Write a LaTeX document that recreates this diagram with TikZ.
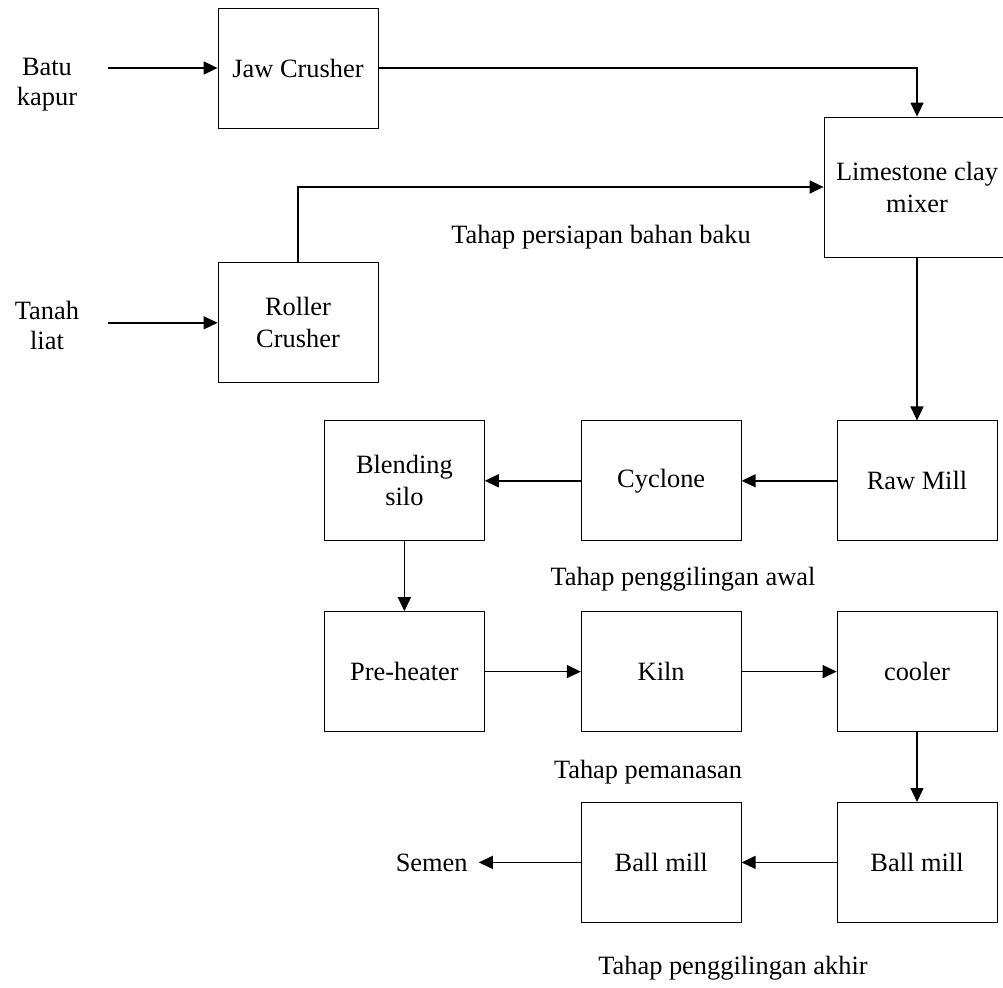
\documentclass[tikz,border=0pt]{standalone}
\usepackage{fontspec}
\setmainfont{Liberation Serif}
\usetikzlibrary{positioning,arrows.meta}

\begin{document}
\begin{tikzpicture}[x=1pt,y=-1pt,node distance={70pt and 96pt},
main/.style={draw,line width=0.8pt,minimum width=160pt,minimum height=120pt,inner sep=0pt,align=center,font=\fontsize{26.4}{32}\selectfont},
txt/.style={inner sep=0pt,align=center,font=\fontsize{26.4}{30}\selectfont},
flow/.style={-{Triangle[length=14pt,width=13pt]},line width = 0.5mm}]
\useasboundingbox (0,0) rectangle (1003,987);
\clip (0,0) rectangle (1003,987);

\node[main] (1) at (298,68) {Jaw Crusher};
\node[main,minimum width=186pt,minimum height=140pt] (2) at (917,187) {Limestone clay\\mixer};
\node[main] (3) [below=134pt of 1] {Roller\\Crusher};
\node[main] (4) [below=163pt of 2] {Raw Mill};
\node[main] (5) [left=95pt of 4] {Cyclone};
\node[main] (6) [left=of 5] {Blending\\silo};
\node[main] (7) [below=of 6] {Pre-heater};
\node[main] (8) [right=of 7] {Kiln};
\node[main] (9) [right=95pt of 8] {cooler};
\node[main] (10) [below=of 9] {Ball mill};
\node[main] (11) [left=95pt of 10] {Ball mill};

% masuk dan keluar
\coordinate[left=110pt of 1] (b1);
\coordinate[left=110pt of 3] (t1);
\coordinate[left=102pt of 11] (s1);
\node[txt] (b) at (47,85) {Batu\\kapur};
\node[txt] (t) at (47,325) {Tanah\\liat};
\node[txt] (s) [left=11pt of s1] {Semen};

% tahap
\node[txt] (p1) at (601,237) {Tahap persiapan bahan baku};
\node[txt] (p2) at (683,579) {Tahap penggilingan awal};
\node[txt] (p3) at (648,772) {Tahap pemanasan};
\node[txt] (p4) at (733,968) {Tahap penggilingan akhir};

\draw[flow] (b1) -- (1);
\draw[flow] (t1) -- (3);
\draw[flow] (1) -| (2);
\draw[flow] (3) |- (2);
\draw[flow] (2) -- (4);
\draw[flow] (4) -- (5);
\draw[flow] (5) -- (6);
\draw[flow] (6) -- (7);
\draw[flow] (7) -- (8);
\draw[flow] (8) -- (9);
\draw[flow] (9) -- (10);
\draw[flow] (10) -- (11);
\draw[flow] (11) -- (s1);

\end{tikzpicture}
\end{document}
